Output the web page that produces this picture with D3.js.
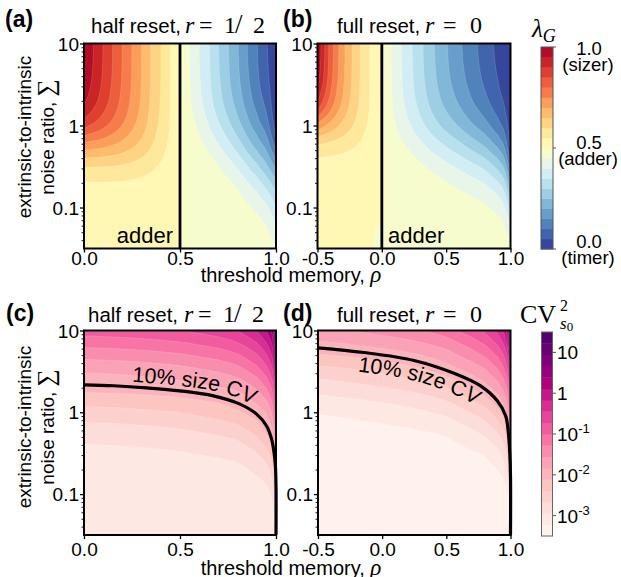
<!DOCTYPE html>
<html>
<head>
<meta charset="utf-8">
<script src="https://cdn.jsdelivr.net/npm/d3@7"></script>
<style>
  body { margin: 0; background: #fff; }
  svg text { font-family: "Liberation Sans", Arial, Helvetica, sans-serif; fill: #000; }
  svg text.math, svg tspan.math { font-family: "Liberation Serif", "Times New Roman", serif; }
</style>
</head>
<body>
<svg id="fig" width="621" height="577"></svg>
<script>
// grid rows for every map: log10(Sigma), top (10) to bottom (10^-1.5)
const logSigma = [1, 0.75, 0.5, 0.25, 0, -0.25, -0.5, -0.75, -1, -1.25, -1.5];

// (a) half reset, lambda_G left of rho = 1/2
const rhoA1 = [0, 0.1, 0.2, 0.3, 0.4, 0.45, 0.5];
const lamA1 = [
  [0.998, 0.899, 0.799, 0.700, 0.600, 0.550, 0.500],
  [0.995, 0.897, 0.798, 0.699, 0.600, 0.550, 0.500],
  [0.983, 0.890, 0.794, 0.697, 0.599, 0.5495, 0.500],
  [0.949, 0.868, 0.782, 0.691, 0.596, 0.548, 0.500],
  [0.864, 0.812, 0.748, 0.672, 0.589, 0.545, 0.500],
  [0.726, 0.709, 0.678, 0.632, 0.572, 0.537, 0.500],
  [0.602, 0.601, 0.593, 0.575, 0.544, 0.524, 0.500],
  [0.537, 0.538, 0.537, 0.531, 0.520, 0.511, 0.500],
  [0.512, 0.512, 0.512, 0.511, 0.507, 0.504, 0.500],
  [0.504, 0.504, 0.504, 0.503, 0.502, 0.501, 0.500],
  [0.501, 0.501, 0.501, 0.501, 0.501, 0.500, 0.500]
];
// (a) right of rho = 1/2
const rhoA2 = [0.5, 0.55, 0.6, 0.7, 0.8, 0.9, 0.95, 1.0];
const lamA2 = [
  [0.500, 0.4503, 0.4006, 0.3015, 0.2025, 0.1037, 0.0545, 0.000],
  [0.500, 0.451, 0.402, 0.304, 0.206, 0.108, 0.059, 0.000],
  [0.500, 0.453, 0.4055, 0.3106, 0.214, 0.1176, 0.069, 0.0025],
  [0.500, 0.458, 0.415, 0.326, 0.233, 0.1376, 0.088, 0.010],
  [0.500, 0.470, 0.436, 0.359, 0.270, 0.175, 0.124, 0.025],
  [0.500, 0.484, 0.463, 0.406, 0.328, 0.235, 0.183, 0.085],
  [0.500, 0.494, 0.484, 0.451, 0.394, 0.313, 0.261, 0.190],
  [0.500, 0.498, 0.494, 0.479, 0.446, 0.387, 0.343, 0.285],
  [0.500, 0.4993, 0.498, 0.492, 0.475, 0.440, 0.410, 0.357],
  [0.500, 0.4998, 0.4993, 0.497, 0.490, 0.470, 0.452, 0.410],
  [0.500, 0.500, 0.4998, 0.499, 0.496, 0.486, 0.476, 0.465]
];

// (b) full reset, lambda_G left of rho = 0
const rhoB1 = [-0.5, -0.4, -0.3, -0.2, -0.1, -0.05, 0];
const lamB1 = [
  [0.997, 0.832, 0.713, 0.6247, 0.5559, 0.526, 0.5],
  [0.988, 0.828, 0.7115, 0.624, 0.5557, 0.526, 0.5],
  [0.960, 0.814, 0.705, 0.621, 0.5548, 0.5255, 0.5],
  [0.879, 0.772, 0.684, 0.612, 0.5518, 0.5245, 0.5],
  [0.731, 0.682, 0.634, 0.5885, 0.5432, 0.520, 0.5],
  [0.594, 0.582, 0.567, 0.550, 0.5268, 0.513, 0.5],
  [0.530, 0.527, 0.524, 0.519, 0.5112, 0.505, 0.5],
  [0.508, 0.508, 0.507, 0.506, 0.5036, 0.5015, 0.5],
  [0.502, 0.502, 0.502, 0.5016, 0.5011, 0.5005, 0.5],
  [0.5006, 0.5006, 0.5006, 0.5005, 0.5003, 0.5, 0.5],
  [0.5002, 0.5002, 0.5002, 0.5001, 0.5001, 0.5, 0.5]
];
// (b) right of rho = 0
const rhoB2 = [0, 0.1, 0.2, 0.3, 0.4, 0.5, 0.6, 0.7, 0.8, 0.9, 0.95, 1.0];
const lamB2 = [
  [0.5, 0.4323, 0.3726, 0.3122, 0.2547, 0.2044, 0.1593, 0.1168, 0.0772, 0.0389, 0.0201, 0],
  [0.5, 0.433, 0.374, 0.3144, 0.2577, 0.2083, 0.1639, 0.1219, 0.0826, 0.0438, 0.0239, 0],
  [0.5, 0.435, 0.3778, 0.3203, 0.2654, 0.2178, 0.1752, 0.1339, 0.0947, 0.0545, 0.0325, 0.002],
  [0.5, 0.4408, 0.388, 0.3354, 0.2841, 0.2396, 0.1997, 0.1594, 0.1208, 0.0768, 0.0503, 0.008],
  [0.5, 0.4537, 0.4114, 0.3671, 0.3224, 0.2828, 0.2465, 0.2082, 0.1703, 0.121, 0.086, 0.02],
  [0.5, 0.4725, 0.446, 0.4144, 0.3802, 0.348, 0.3173, 0.2829, 0.2472, 0.1936, 0.1493, 0.045],
  [0.5, 0.488, 0.4754, 0.4575, 0.4365, 0.4145, 0.3913, 0.3653, 0.3365, 0.2866, 0.2389, 0.125],
  [0.5, 0.4956, 0.4909, 0.4826, 0.4721, 0.4598, 0.4456, 0.4296, 0.4103, 0.374, 0.3343, 0.228],
  [0.5, 0.4986, 0.4969, 0.4936, 0.4889, 0.483, 0.4756, 0.467, 0.4564, 0.4349, 0.4092, 0.33],
  [0.5, 0.4995, 0.499, 0.4977, 0.4958, 0.4932, 0.4897, 0.4858, 0.4804, 0.469, 0.455, 0.42],
  [0.5, 0.4998, 0.4997, 0.4992, 0.4984, 0.4973, 0.4957, 0.4939, 0.4915, 0.4859, 0.479, 0.475]
];

// (c) half reset, log10 CV^2 of birth size
const rhoC = [0, 0.25, 0.5, 0.7, 0.8, 0.9, 0.95, 0.98, 1.0];
const cvC = [
  [-0.87, -0.82, -0.722, -0.57, -0.43, -0.15, 0.13, 0.49, 1.33],
  [-1.36, -1.311, -1.215, -1.066, -0.929, -0.65, -0.37, -0.01, 0.83],
  [-1.81, -1.765, -1.677, -1.54, -1.414, -1.144, -0.87, -0.51, 0.33],
  [-2.10, -2.071, -2.014, -1.926, -1.845, -1.612, -1.36, -1.007, -0.17],
  [-2.50, -2.46, -2.382, -2.26, -2.148, -1.972, -1.81, -1.486, -0.67],
  [-2.82, -2.788, -2.725, -2.628, -2.538, -2.324, -2.10, -1.891, -1.164],
  [-3.02, -3.0, -2.961, -2.90, -2.844, -2.679, -2.50, -2.212, -1.63],
  [-3.10, -3.092, -3.076, -3.052, -3.03, -2.932, -2.82, -2.59, -1.984],
  [-3.14, -3.136, -3.128, -3.116, -3.105, -3.065, -3.02, -2.876, -2.34],
  [-3.16, -3.158, -3.154, -3.148, -3.142, -3.122, -3.10, -3.042, -2.692],
  [-3.17, -3.169, -3.167, -3.164, -3.161, -3.151, -3.14, -3.111, -2.94]
];
// (d) full reset, log10 CV^2 of birth size
const rhoD = [-0.5, -0.25, 0, 0.25, 0.5, 0.7, 0.8, 0.9, 0.95, 0.98, 1.0];
const cvD = [
  [-1.63, -1.555, -1.453, -1.329, -1.122, -0.843, -0.658, -0.368, -0.086, 0.332, 1.42],
  [-2.04, -1.974, -1.886, -1.778, -1.592, -1.32, -1.139, -0.86, -0.586, -0.168, 0.92],
  [-2.52, -2.443, -2.34, -2.213, -2.007, -1.769, -1.609, -1.337, -1.07, -0.668, 0.42],
  [-2.90, -2.839, -2.757, -2.657, -2.482, -2.203, -2.022, -1.784, -1.542, -1.149, -0.08],
  [-3.20, -3.152, -3.087, -3.008, -2.87, -2.649, -2.499, -2.22, -1.963, -1.619, -0.58],
  [-3.36, -3.334, -3.30, -3.258, -3.176, -3.002, -2.883, -2.663, -2.43, -2.03, -1.064],
  [-3.43, -3.419, -3.404, -3.385, -3.347, -3.254, -3.187, -3.013, -2.829, -2.509, -1.536],
  [-3.46, -3.455, -3.449, -3.441, -3.424, -3.384, -3.353, -3.26, -3.144, -2.891, -1.958],
  [-3.48, -3.477, -3.4725, -3.467, -3.458, -3.44, -3.427, -3.386, -3.33, -3.193, -2.424],
  [-3.49, -3.488, -3.486, -3.484, -3.478, -3.467, -3.459, -3.441, -3.417, -3.356, -2.824],
  [-3.495, -3.494, -3.493, -3.492, -3.489, -3.483, -3.479, -3.468, -3.454, -3.428, -3.14]
];

// 10% size CV contour, [rho, Sigma]
const tenPctC = [[0, 2.17], [0.153, 2.11], [0.326, 1.99], [0.5, 1.83], [0.674, 1.59], [0.8125, 1.26],
  [0.899, 0.95], [0.951, 0.68], [0.977, 0.47], [0.99, 0.32], [0.997, 0.22], [1.0, 0.12], [1.0, 0.0316]];
const tenPctD = [[-0.5, 6.14], [-0.142, 5.38], [0.248, 4.3], [0.56, 3.0], [0.767, 2.1], [0.897, 1.38],
  [0.962, 0.906], [0.983, 0.566], [0.994, 0.324], [1.0, 0.166], [1.0, 0.0316]];

const lamLevels = d3.range(20).map(i => i * 0.05);
const cvLevels = d3.range(18).map(i => -3.5 + i * 5 / 18);
const sigmaTicks = [0.1, 1, 10];
const sigmaMinor = [0.04, 0.05, 0.06, 0.07, 0.08, 0.09, 0.2, 0.3, 0.4, 0.5, 0.6, 0.7, 0.8, 0.9, 2, 3, 4, 5, 6, 7, 8, 9];
const lamTicks = [[1, '1.0', '(sizer)'], [0.5, '0.5', '(adder)'], [0, '0.0', '(timer)']];
const cvTicks = [1, 0, -1, -2, -3];

const svg = d3.select('#fig');
const defs = svg.append('defs');

const lamColor = d3.piecewise(d3.interpolateRgb, d3.schemeRdYlBu[11].slice().reverse());
const cvColor = d3.piecewise(d3.interpolateRgb, d3.schemeRdPu[9]);
const lamFill = v => lamColor((Math.round(v / 0.05) + 0.5) / 20);
const cvFill = v => cvColor((Math.round((v + 3.5) * 18 / 5) + 0.5) / 18);

function panel(x0, x1, y0, y1, dom) {
  return { x0, x1, y0, y1,
    x: d3.scaleLinear().domain(dom).range([x0, x1]),
    y: d3.scaleLog().domain([Math.pow(10, -1.5), 10]).range([y1, y0]) };
}
const pa = panel(84, 276, 43.5, 248.5, [0, 1]);
const pb = panel(317.5, 510.5, 43.5, 248.5, [-0.5, 1]);
const pc = panel(84, 276, 330.5, 535, [0, 1]);
const pd = panel(318, 510.5, 330.5, 535, [-0.5, 1]);

// catmull-rom resampling of one row/column, used to draw smooth bands
function resample(a, n) {
  const m = a.length, out = new Array(n);
  for (let k = 0; k < n; k++) {
    const u = k * (m - 1) / (n - 1);
    const i = Math.min(Math.floor(u), m - 2), t = u - i;
    const p0 = i > 0 ? a[i - 1] : 2 * a[0] - a[1];
    const p1 = a[i], p2 = a[i + 1];
    const p3 = i + 2 < m ? a[i + 2] : 2 * a[m - 1] - a[m - 2];
    out[k] = 0.5 * (2 * p1 + (p2 - p0) * t + (2 * p0 - 5 * p1 + 4 * p2 - p3) * t * t
      + (3 * p1 - p0 - 3 * p2 + p3) * t * t * t);
  }
  return out;
}

let clipN = 0;
function drawField(p, cols, grid, levels, fill) {
  const nc = cols.length, nr = logSigma.length;
  const xa = p.x(cols[0]), xb = p.x(cols[nc - 1]);
  const id = 'clip' + (clipN++);
  defs.append('clipPath').attr('id', id).append('rect')
    .attr('x', xa).attr('y', p.y0).attr('width', xb - xa).attr('height', p.y1 - p.y0);
  const nx = Math.round(xb - xa) + 1, ny = Math.round(p.y1 - p.y0) + 1;
  const up = grid.map(r => resample(r, nx));
  const vals = new Array(nx * ny);
  for (let i = 0; i < nx; i++) {
    const col = resample(up.map(r => r[i]), ny);
    for (let j = 0; j < ny; j++) vals[j * nx + i] = col[j];
  }
  const fx = d3.scaleLinear().domain([0, nx - 1]).range([0, nc - 1]);
  const fy = d3.scaleLinear().domain([0, ny - 1]).range([0, nr - 1]);
  const colAt = d3.scaleLinear().domain(d3.range(nc)).range(cols);
  const rowAt = d3.scaleLinear().domain(d3.range(nr)).range(logSigma);
  const path = d3.geoPath(d3.geoTransform({
    point(x, y) {
      this.stream.point(p.x(colAt(fx(x - 0.5))), p.y(Math.pow(10, rowAt(fy(y - 0.5)))));
    }
  }));
  const bands = d3.contours().size([nx, ny]).thresholds(levels)(vals);
  const g = svg.append('g').attr('clip-path', `url(#${id})`);
  g.append('rect').attr('x', xa).attr('y', p.y0).attr('width', xb - xa).attr('height', p.y1 - p.y0)
    .attr('fill', fill(levels[0]));
  g.selectAll('path').data(bands).join('path')
    .attr('d', path).attr('fill', d => fill(d.value))
    .attr('stroke', 'rgba(255,255,255,0.3)').attr('stroke-width', 0.5);
}

drawField(pa, rhoA1, lamA1, lamLevels, lamFill);
drawField(pa, rhoA2, lamA2, lamLevels, lamFill);
drawField(pb, rhoB1, lamB1, lamLevels, lamFill);
drawField(pb, rhoB2, lamB2, lamLevels, lamFill);
drawField(pc, rhoC, cvC, cvLevels, cvFill);
drawField(pd, rhoD, cvD, cvLevels, cvFill);

// divider at rho = r
svg.append('line').attr('x1', pa.x(0.5)).attr('x2', pa.x(0.5)).attr('y1', pa.y0).attr('y2', pa.y1)
  .attr('stroke', '#000').attr('stroke-width', 2.8);
svg.append('line').attr('x1', pb.x(0)).attr('x2', pb.x(0)).attr('y1', pb.y0).attr('y2', pb.y1)
  .attr('stroke', '#000').attr('stroke-width', 2.8);

// 10% size CV lines and their labels
const curve = d3.curveCatmullRom.alpha(0.5);
function offsetPts(pts, off) {
  return pts.map((q, i) => {
    const a = pts[Math.max(0, i - 1)], b = pts[Math.min(pts.length - 1, i + 1)];
    const dx = b[0] - a[0], dy = b[1] - a[1], L = Math.hypot(dx, dy);
    return [q[0] + off * dy / L, q[1] - off * dx / L];
  });
}
function tenPct(p, pts, off, start, nText, id) {
  const px = pts.map(d => [p.x(d[0]), p.y(d[1])]);
  svg.append('path').attr('d', d3.line().curve(curve)(px))
    .attr('fill', 'none').attr('stroke', '#000').attr('stroke-width', 3.2);
  defs.append('path').attr('id', id).attr('d', d3.line().curve(curve)(offsetPts(px.slice(0, nText), off)));
  svg.append('text').style('font-size', '21.5px')
    .append('textPath').attr('href', '#' + id).attr('startOffset', start).text('10% size CV');
}
tenPct(pc, tenPctC, 5, 48, 10, 'tpc');
tenPct(pd, tenPctD, -19.5, 42, 8, 'tpd');

// frames and axes
const fmt = d => d3.format('.1f')(d).replace('\u2212', '-');
function frame(p, xticks, labelY) {
  svg.append('rect').attr('x', p.x0).attr('y', p.y0).attr('width', p.x1 - p.x0).attr('height', p.y1 - p.y0)
    .attr('fill', 'none').attr('stroke', '#000').attr('stroke-width', 2);
  const gx = svg.append('g').attr('transform', `translate(0,${p.y1})`)
    .call(d3.axisBottom(p.x).tickValues(xticks).tickSize(4).tickFormat(fmt));
  gx.attr('font-size', null).attr('font-family', null);
  gx.select('.domain').remove();
  gx.selectAll('line').attr('stroke-width', 1.3);
  gx.selectAll('text').attr('y', labelY).attr('dy', null).style('font-size', '19px');
  const gy = svg.append('g').attr('transform', `translate(${p.x0},0)`)
    .call(d3.axisLeft(p.y).tickValues(sigmaTicks).tickSize(4).tickPadding(1).tickFormat(d => String(d)));
  gy.attr('font-size', null).attr('font-family', null);
  gy.select('.domain').remove();
  gy.selectAll('line').attr('stroke-width', 1.3);
  gy.selectAll('text').style('font-size', '19px').attr('dy', '0.35em');
  const gm = svg.append('g').attr('transform', `translate(${p.x0},0)`)
    .call(d3.axisLeft(p.y).tickValues(sigmaMinor).tickSize(2.5).tickFormat(''));
  gm.select('.domain').remove();
  gm.selectAll('line').attr('stroke-width', 0.9);
}
frame(pa, [0, 0.5, 1], 16);
frame(pb, [-0.5, 0, 0.5, 1], 16);
frame(pc, [0, 0.5, 1], 21);
frame(pd, [-0.5, 0, 0.5, 1], 21);

// colour bars
const cb1 = d3.scaleLinear().domain([0, 1]).range([249, 47]);
svg.append('g').selectAll('rect').data(lamLevels).join('rect')
  .attr('x', 541).attr('width', 12)
  .attr('y', d => cb1(d + 0.05)).attr('height', d => cb1(d) - cb1(d + 0.05) + 0.4)
  .attr('fill', d => lamFill(d));
svg.append('rect').attr('x', 541).attr('y', 47).attr('width', 12).attr('height', 202)
  .attr('fill', 'none').attr('stroke', '#555').attr('stroke-width', 1);
lamTicks.forEach(([v, a, b]) => {
  svg.append('line').attr('x1', 553).attr('x2', 556).attr('y1', cb1(v)).attr('y2', cb1(v))
    .attr('stroke', '#555').attr('stroke-width', 1);
  svg.append('text').attr('x', 589).attr('y', cb1(v) + (v === 1 ? 8 : v === 0 ? -1 : 1))
    .attr('text-anchor', 'middle').style('font-size', '18.5px').text(a);
  svg.append('text').attr('x', 588).attr('y', cb1(v) + (v === 1 ? 24 : v === 0 ? 15 : 17))
    .attr('text-anchor', 'middle').style('font-size', '18.5px').text(b);
});
const lg = svg.append('text').attr('class', 'math').attr('x', 532).attr('y', 37)
  .style('font-size', '25px').style('font-style', 'italic');
lg.append('tspan').text('\u03bb');
lg.append('tspan').attr('dy', 5).style('font-size', '18px').text('G');

const step = 5 / 18;
const cb2 = d3.scaleLinear().domain([-3.5, 1.5]).range([536, 332]);
svg.append('g').selectAll('rect').data(cvLevels).join('rect')
  .attr('x', 541.5).attr('width', 11)
  .attr('y', d => cb2(d + step)).attr('height', d => cb2(d) - cb2(d + step) + 0.4)
  .attr('fill', d => cvFill(d));
svg.append('rect').attr('x', 541.5).attr('y', 332).attr('width', 11).attr('height', 204)
  .attr('fill', 'none').attr('stroke', '#666').attr('stroke-width', 1);
cvTicks.forEach(e => {
  svg.append('line').attr('x1', 552.5).attr('x2', 556).attr('y1', cb2(e)).attr('y2', cb2(e))
    .attr('stroke', '#555').attr('stroke-width', 1);
  const t = svg.append('text').attr('x', 557).attr('y', cb2(e) + 7).style('font-size', '19px')
    .text(e === 0 ? '1' : '10');
  if (e < 0) t.append('tspan').attr('dy', -8).style('font-size', '13px').text('-' + (-e));
});
const cvt = svg.append('text').attr('class', 'math').attr('x', 520).attr('y', 323).style('font-size', '26px');
cvt.append('tspan').text('CV');
cvt.append('tspan').attr('x', 560).attr('y', 311).style('font-size', '16px').text('2');
cvt.append('tspan').attr('x', 560).attr('y', 329).style('font-size', '17px').style('font-style', 'italic').text('s');
cvt.append('tspan').attr('dy', 2).style('font-size', '13px').text('0');

// panel letters and titles
[['(a)', 5, 27], ['(b)', 283, 27], ['(c)', 6, 321], ['(d)', 283, 321]].forEach(([t, x, y]) =>
  svg.append('text').attr('x', x).attr('y', y).style('font-size', '23px').style('font-weight', 'bold').text(t));

function title(x, y, word, mx, parts) {
  const t = svg.append('text').attr('x', x).attr('y', y).style('font-size', '20.5px').text(word + ' ');
  parts.forEach(([s, dx, it, fs]) => t.append('tspan').attr('class', 'math').attr('x', mx + dx)
    .style('font-size', (fs || 24) + 'px').style('font-style', it ? 'italic' : 'normal').text(s));
}
const halfParts = [['r', 0, true], ['=', 14, false], ['1', 39, false], ['/', 50, false, 27], ['2', 68, false]];
const fullParts = [['r', 0, true], ['=', 18, false], ['0', 45, false]];
title(91, 33, 'half reset,', 185, halfParts);
title(337, 33, 'full reset,', 425, fullParts);
title(88, 322, 'half reset,', 184, halfParts);
title(337, 322, 'full reset,', 425, fullParts);

svg.append('text').attr('x', 173).attr('y', 243).attr('text-anchor', 'end').style('font-size', '22px').text('adder');
svg.append('text').attr('x', 388).attr('y', 243).style('font-size', '22px').text('adder');

// axis titles
function xTitle(y) {
  const t = svg.append('text').attr('x', 291).attr('y', y).attr('text-anchor', 'middle').style('font-size', '20px')
    .text('threshold memory, ');
  t.append('tspan').attr('class', 'math').style('font-style', 'italic').style('font-size', '23px').text('\u03c1');
}
xTitle(282);
xTitle(574.5);
function yTitle(cy) {
  svg.append('text').attr('transform', `translate(31,${cy}) rotate(-90)`).attr('text-anchor', 'middle')
    .style('font-size', '19px').text('extrinsic-to-intrinsic');
  const t = svg.append('text').attr('transform', `translate(54,${cy}) rotate(-90)`).attr('text-anchor', 'middle')
    .style('font-size', '19px').text('noise ratio, ');
  t.append('tspan').attr('class', 'math').style('font-size', '24px').text('\u2211');
}
yTitle(137);
yTitle(427);
</script>
</body>
</html>
